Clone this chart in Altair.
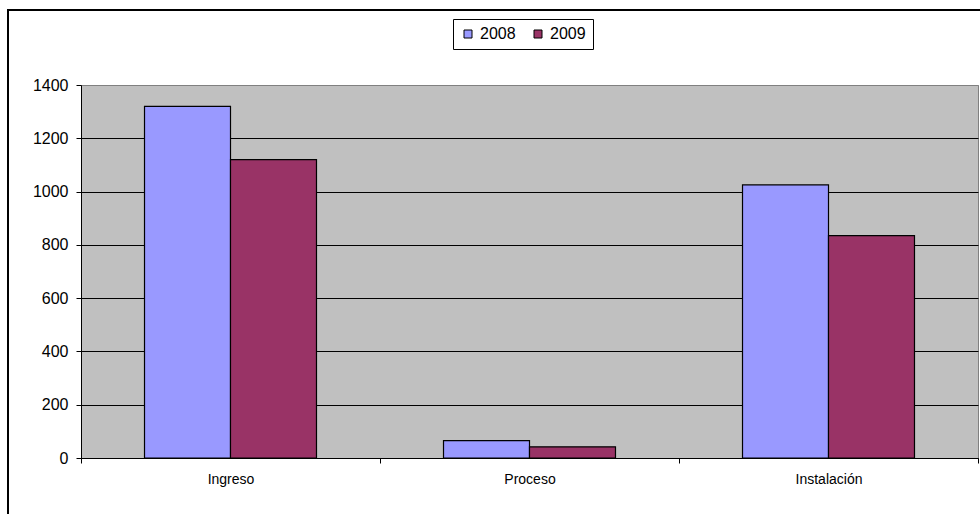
import altair as alt
import pandas as pd

categories = ["Ingreso", "Proceso", "Instalación"]
years = ["2008", "2009"]
values_2008 = [1320, 65, 1025]
values_2009 = [1120, 42, 835]
colors = ["#9999FF", "#993366"]

rows = []
for i, c in enumerate(categories):
    rows.append({"cat": c, "year": years[0], "value": values_2008[i]})
    rows.append({"cat": c, "year": years[1], "value": values_2009[i]})
df = pd.DataFrame(rows)

FONT = "Liberation Sans"

bars = alt.Chart(df).mark_bar(stroke="black", strokeWidth=1.2).encode(
    x=alt.X("cat:N", sort=categories, title=None,
            scale=alt.Scale(paddingInner=0, paddingOuter=0),
            axis=alt.Axis(labelAngle=0, tickBand="extent", tickSize=5,
                          tickColor="black", domainColor="black",
                          labelFontSize=14, labelPadding=9, labelColor="black",
                          labelFont=FONT, grid=False)),
    xOffset=alt.XOffset("year:N", sort=years,
                        scale=alt.Scale(paddingInner=0, paddingOuter=0.7385)),
    y=alt.Y("value:Q", title=None,
            scale=alt.Scale(domain=[0, 1400], nice=False),
            axis=alt.Axis(values=list(range(0, 1401, 200)), format="d", tickSize=5,
                          tickColor="black", domainColor="black",
                          labelFontSize=16, labelPadding=8, labelColor="black",
                          labelFont=FONT, grid=True,
                          gridColor={"condition": {"test": "datum.value >= 1400", "value": "#808080"}, "value": "black"},
                          gridWidth=1)),
    color=alt.Color("year:N", sort=years,
                    scale=alt.Scale(domain=years, range=colors),
                    legend=alt.Legend(title=None, orient="none", legendX=372, legendY=-66,
                                      direction="horizontal", symbolType="square",
                                      symbolSize=64, symbolStrokeColor="black",
                                      symbolStrokeWidth=1, labelFontSize=16,
                                      labelFont=FONT, labelColor="black",
                                      strokeColor="black", padding=7,
                                      columnPadding=14, labelOffset=4)),
)

frame = alt.Chart(df).mark_rect(fill=None, stroke="black", strokeWidth=2, clip=False).encode(
    x=alt.value(-73), x2=alt.value(912), y=alt.value(-75), y2=alt.value(440)
)

chart = alt.layer(bars, frame).properties(
    width=897, height=373,
    autosize=alt.AutoSizeParams(type="none"),
    padding={"left": 81, "top": 85, "right": 2, "bottom": 56},
    background="white",
).configure_view(fill="#C0C0C0", stroke="#808080", strokeWidth=1)

chart.save("out.html", embed_options={"renderer": "svg", "actions": False})
